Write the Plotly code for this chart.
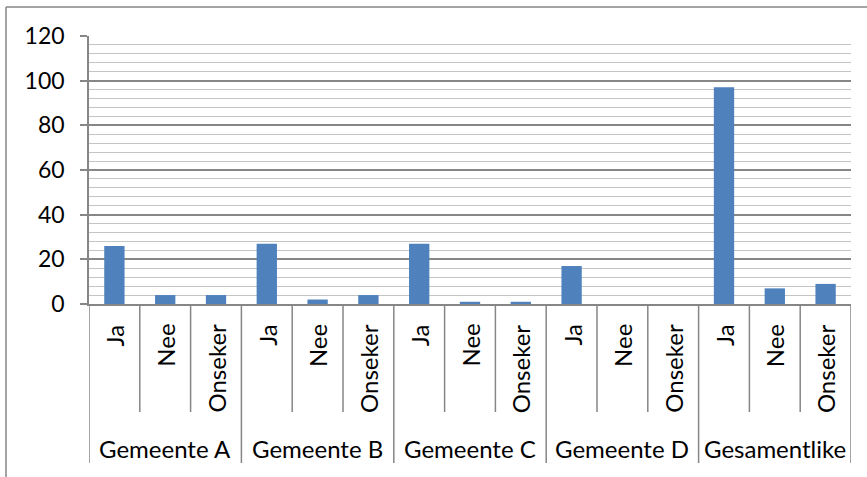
import plotly.graph_objects as go

groups = ["Gemeente A", "Gemeente B", "Gemeente C", "Gemeente D", "Gesamentlike"]
answers = ["Ja", "Nee", "Onseker"]
values = {
    "Gemeente A": [26, 4, 4],
    "Gemeente B": [27, 2, 4],
    "Gemeente C": [27, 1, 1],
    "Gemeente D": [17, 0, 0],
    "Gesamentlike": [97, 7, 9],
}
y_ticks = [0, 20, 40, 60, 80, 100, 120]

FONT = "Lato"
FS = 24
GRAY = "#868686"
BLUE = "#4f81bd"

keys, ys = [], []
for g in groups:
    for a, v in zip(answers, values[g]):
        keys.append(f"{g}|{a}")
        ys.append(v)

W, H = 867, 477
L, R, T, B = 89, 16, 36, 173
pw, ph = W - L - R, H - T - B

def py(p):
    return (H - B - p) / ph

def px(p):
    return (p - L) / pw

fig = go.Figure(go.Bar(x=keys, y=ys, marker=dict(color=BLUE, line=dict(width=0)), width=0.4))

shapes = []
n = len(keys)
for i in range(n + 1):
    xb = i - 0.5
    is_group = i % 3 == 0
    shapes.append(dict(type="line", xref="x", yref="paper", x0=xb, x1=xb,
                       y0=0, y1=py(463) if is_group else py(412),
                       line=dict(color=GRAY, width=1.5)))
# outer border (left and top)
shapes.append(dict(type="line", xref="paper", yref="paper", x0=px(6), x1=px(6),
                   y0=py(7), y1=py(478), line=dict(color=GRAY, width=1.5)))
shapes.append(dict(type="line", xref="paper", yref="paper", x0=px(6), x1=px(868),
                   y0=py(7), y1=py(7), line=dict(color=GRAY, width=1.5)))

annotations = []
for i, k in enumerate(keys):
    a = k.split("|")[1]
    annotations.append(dict(x=i, xref="x", y=py(323), yref="paper", text=a,
                            textangle=-90, showarrow=False, xanchor="center", yanchor="top",
                            borderpad=0, font=dict(family=FONT, size=FS, color="black")))
for gi, g in enumerate(groups):
    annotations.append(dict(x=gi * 3 + 1, xref="x", y=py(448), yref="paper", text=g,
                            showarrow=False, xanchor="center", yanchor="middle",
                            borderpad=0, font=dict(family=FONT, size=FS, color="black")))

fig.update_layout(
    width=W, height=H,
    margin=dict(l=L, r=R, t=T, b=B),
    paper_bgcolor="white", plot_bgcolor="white",
    showlegend=False,
    shapes=shapes,
    annotations=annotations,
    font=dict(family=FONT, size=FS, color="black"),
    xaxis=dict(type="category", range=[-0.5, n - 0.5], showticklabels=False,
               showgrid=False, ticks="", showline=True, linecolor=GRAY, linewidth=1.5,
               zeroline=False, fixedrange=True),
    yaxis=dict(range=[0, 120], tickvals=y_ticks, ticktext=[str(v) for v in y_ticks],
               showgrid=True, gridcolor=GRAY, gridwidth=1.5,
               minor=dict(dtick=4, tick0=0, showgrid=True, gridcolor="#c4c4c4", gridwidth=1.2),
               ticks="outside", ticklen=7, tickcolor=GRAY, tickwidth=1.5,
               showline=True, linecolor=GRAY, linewidth=1.5, zeroline=False,
               tickfont=dict(family=FONT, size=23, color="black"), ticklabelstandoff=11),
    bargap=0.6,
)

fig.write_html("out.html", config={"displayModeBar": False},
               post_script="document.body.style.margin='0';")
